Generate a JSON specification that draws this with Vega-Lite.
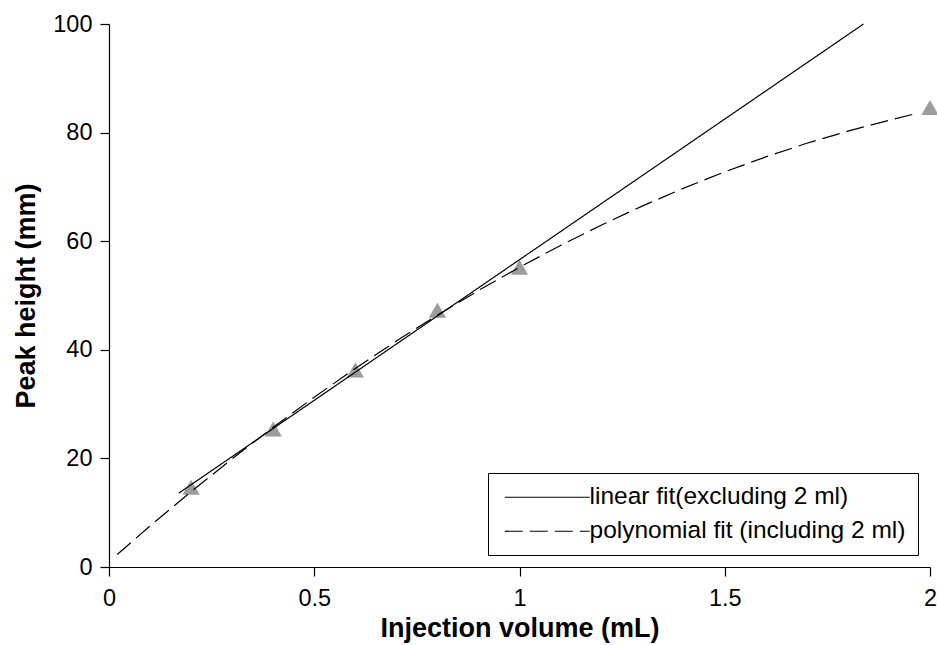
{
  "$schema": "https://vega.github.io/schema/vega-lite/v6.json",
  "autosize": {"type": "none"},
  "padding": {"left": 109, "top": 24, "right": 7, "bottom": 78},
  "width": 821,
  "height": 543,
  "background": "white",
  "config": {
    "view": {"stroke": null},
    "font": "Liberation Sans",
    "axis": {
      "grid": false,
      "domainColor": "black",
      "domainWidth": 1.2,
      "tickColor": "black",
      "tickWidth": 1.2,
      "tickSize": 9,
      "labelColor": "black",
      "labelFont": "Liberation Sans",
      "labelFontSize": 23.5,
      "titleFont": "Liberation Sans",
      "titleFontSize": 27,
      "titleFontWeight": "bold",
      "titleColor": "black"
    }
  },
  "datasets": {
    "points": [
      {"volume": 0.2, "height": 14.7},
      {"volume": 0.4, "height": 25.4},
      {"volume": 0.6, "height": 36.3},
      {"volume": 0.8, "height": 47.3},
      {"volume": 1.0, "height": 55.2},
      {"volume": 2.0, "height": 84.6}
    ],
    "fits": [
      {"fit": "linear fit(excluding 2 ml)", "volume": 0.17, "height": 13.6},
      {"fit": "linear fit(excluding 2 ml)", "volume": 1.838, "height": 100},
      {"fit": "polynomial fit (including 2 ml)", "volume": 0.02, "height": 2.3},
      {"fit": "polynomial fit (including 2 ml)", "volume": 0.1, "height": 7.56},
      {"fit": "polynomial fit (including 2 ml)", "volume": 0.2, "height": 13.87},
      {"fit": "polynomial fit (including 2 ml)", "volume": 0.3, "height": 19.93},
      {"fit": "polynomial fit (including 2 ml)", "volume": 0.4, "height": 25.73},
      {"fit": "polynomial fit (including 2 ml)", "volume": 0.5, "height": 31.28},
      {"fit": "polynomial fit (including 2 ml)", "volume": 0.6, "height": 36.57},
      {"fit": "polynomial fit (including 2 ml)", "volume": 0.7, "height": 41.61},
      {"fit": "polynomial fit (including 2 ml)", "volume": 0.8, "height": 46.39},
      {"fit": "polynomial fit (including 2 ml)", "volume": 0.9, "height": 50.92},
      {"fit": "polynomial fit (including 2 ml)", "volume": 1.0, "height": 55.2},
      {"fit": "polynomial fit (including 2 ml)", "volume": 1.1, "height": 59.22},
      {"fit": "polynomial fit (including 2 ml)", "volume": 1.2, "height": 62.99},
      {"fit": "polynomial fit (including 2 ml)", "volume": 1.3, "height": 66.51},
      {"fit": "polynomial fit (including 2 ml)", "volume": 1.4, "height": 69.77},
      {"fit": "polynomial fit (including 2 ml)", "volume": 1.5, "height": 72.78},
      {"fit": "polynomial fit (including 2 ml)", "volume": 1.6, "height": 75.53},
      {"fit": "polynomial fit (including 2 ml)", "volume": 1.7, "height": 78.03},
      {"fit": "polynomial fit (including 2 ml)", "volume": 1.8, "height": 80.27},
      {"fit": "polynomial fit (including 2 ml)", "volume": 1.9, "height": 82.26},
      {"fit": "polynomial fit (including 2 ml)", "volume": 1.96, "height": 83.4}
    ]
  },
  "layer": [
    {
      "data": {"name": "points"},
      "mark": {"type": "point", "shape": "triangle-up", "filled": true, "color": "#9c9c9c", "size": 300, "opacity": 1, "clip": false},
      "encoding": {
        "x": {"field": "volume", "type": "quantitative"},
        "y": {"field": "height", "type": "quantitative"}
      }
    },
    {
      "data": {"name": "fits"},
      "mark": {"type": "line", "color": "black", "strokeWidth": 1.2},
      "encoding": {
        "x": {
          "field": "volume", "type": "quantitative",
          "scale": {"domain": [0, 2], "nice": false, "zero": false},
          "axis": {"values": [0, 0.5, 1, 1.5, 2], "format": "~g", "title": "Injection volume (mL)", "labelPadding": 10, "titlePadding": 6, "labelFlush": false}
        },
        "y": {
          "field": "height", "type": "quantitative",
          "scale": {"domain": [0, 100], "nice": false},
          "axis": {"values": [0, 20, 40, 60, 80, 100], "title": "Peak height (mm)", "labelPadding": 8, "titlePadding": 12}
        },
        "strokeDash": {
          "field": "fit", "type": "nominal",
          "scale": {"domain": ["linear fit(excluding 2 ml)", "polynomial fit (including 2 ml)"], "range": [[1, 0], [18, 7]]},
          "legend": {
            "title": null,
            "orient": "bottom-right",
            "offset": 12,
            "strokeColor": "black",
            "fillColor": "white",
            "padding": 12,
            "cornerRadius": 0,
            "labelFontSize": 24.5,
            "labelFont": "Liberation Sans",
            "labelColor": "black",
            "labelLimit": 500,
            "labelOffset": 30,
            "symbolType": "M-4,0H4",
            "symbolSize": 451,
            "symbolOffset": 35,
            "symbolStrokeColor": "black",
            "symbolStrokeWidth": 1.2,
            "rowPadding": 9
          }
        }
      }
    }
  ]
}
